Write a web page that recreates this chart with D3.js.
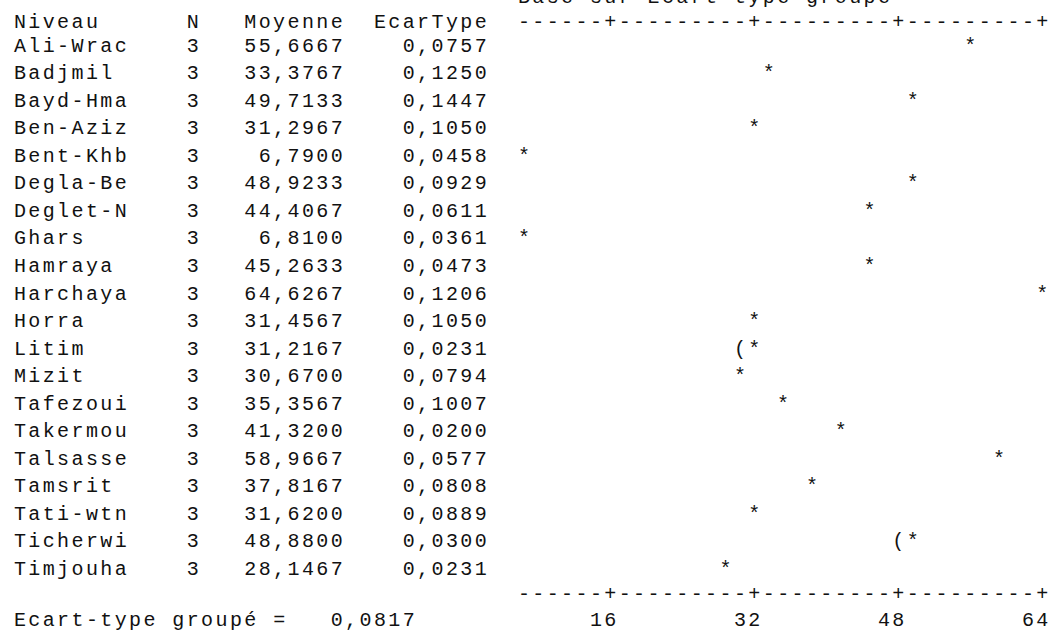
<!DOCTYPE html>
<html>
<head>
<meta charset="utf-8">
<script src="https://cdn.jsdelivr.net/npm/d3@7"></script>
<style>
  html, body { margin: 0; padding: 0; background: #ffffff; }
  svg text { font-family: "Liberation Mono", "Courier New", monospace; font-size: 20px; letter-spacing: 2.4px; fill: #111; }
</style>
</head>
<body>
<svg id="chart" width="1051" height="630"></svg>
<script>
const categories = ["Ali-Wrac","Badjmil","Bayd-Hma","Ben-Aziz","Bent-Khb","Degla-Be","Deglet-N","Ghars","Hamraya","Harchaya","Horra","Litim","Mizit","Tafezoui","Takermou","Talsasse","Tamsrit","Tati-wtn","Ticherwi","Timjouha"];
const nValues = [3,3,3,3,3,3,3,3,3,3,3,3,3,3,3,3,3,3,3,3];
const means = [55.6667,33.3767,49.7133,31.2967,6.7900,48.9233,44.4067,6.8100,45.2633,64.6267,31.4567,31.2167,30.6700,35.3567,41.3200,58.9667,37.8167,31.6200,48.8800,28.1467];
const stdevs = [0.0757,0.1250,0.1447,0.1050,0.0458,0.0929,0.0611,0.0361,0.0473,0.1206,0.1050,0.0231,0.0794,0.1007,0.0200,0.0577,0.0808,0.0889,0.0300,0.0231];
const markers = ["*","*","*","*","*","*","*","*","*","*","*","(*","*","*","*","*","*","*","(*","*"];
const tickValues = [16,32,48,64];
const pooledSd = 0.0817;
const headers = ["Niveau","N","Moyenne","EcarType"];
const titleText = "Base sur Ecart-type groupé";
const pooledLabel = "Ecart-type groupé =";

const svg = d3.select("#chart");
const cw = 14.4;      // monospace character cell
const x0 = 12.7;      // left margin
const glyphShift = 1.2; // centre glyphs in their cells (letter-spacing adds trailing space)
const col = c => x0 + c * cw;

const fmt4 = v => d3.format(".4f")(v).replace(".", ",");

function put(parent, text, c, yy) {
  return parent.append("text").attr("x", col(c) + glyphShift).attr("y", yy).text(text);
}
function putRight(parent, text, endCol, yy) {
  text = String(text);
  return put(parent, text, endCol - text.length, yy);
}

// row positions
const y = d3.scalePoint().domain(categories).range([51.7, 575]);
const yTitle = 3, yHeader = 28, yAxis = 600, yLabels = 626;

// value scale, mapped onto character columns
const axisStartCol = 35, axisEndCol = 71;
const x = d3.scaleLinear().domain([16, 64]).range([col(41), col(71)]);
const toCol = v => Math.round((x(v) - x0) / cw);

// axis string built from the scale
const tickCols = tickValues.map(toCol);
let axisStr = "";
for (let c = axisStartCol; c <= axisEndCol; c++) axisStr += tickCols.includes(c) ? "+" : "-";

// title (partially cut at top)
put(svg, titleText, 35, yTitle);

// header
const headerCols = [0, 12, 16, 25];
headers.forEach((h, i) => put(svg, h, headerCols[i], yHeader));
put(svg, axisStr, axisStartCol, yHeader);

// rows
const rows = categories.map((c, i) => ({ name: c, n: nValues[i], mean: means[i], sd: stdevs[i], marker: markers[i] }));
const g = svg.append("g");
rows.forEach(d => {
  const yy = y(d.name);
  put(g, d.name, 0, yy);
  put(g, d.n, 12, yy);
  putRight(g, fmt4(d.mean), 23, yy);
  putRight(g, fmt4(d.sd), 33, yy);
  put(g, d.marker, toCol(d.mean) - (d.marker.length - 1), yy);
});

// bottom axis
put(svg, axisStr, axisStartCol, yAxis);
tickValues.forEach((t, i) => putRight(svg, t, tickCols[i] + 1, yLabels));

// pooled sd line
put(svg, pooledLabel, 0, yLabels);
putRight(svg, fmt4(pooledSd), 28, yLabels);
</script>
</body>
</html>
